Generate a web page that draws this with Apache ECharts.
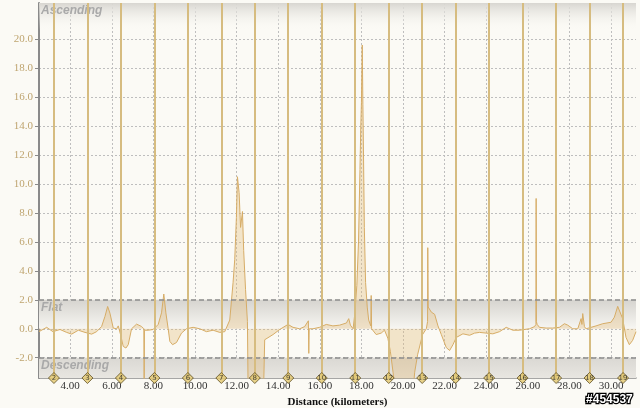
<!DOCTYPE html>
<html><head><meta charset="utf-8">
<script src="https://cdn.jsdelivr.net/npm/echarts@6/dist/echarts.min.js"></script>
<style>html,body{margin:0;padding:0;background:#FBFAF5}#c{width:640px;height:408px}</style>
</head><body><div id="c"></div>
<script>
// ---- data ----
const distanceKm = [2.50,2.87,3.17,3.51,3.83,4.07,4.39,4.71,5.03,5.27,5.51,5.67,5.80,5.91,6.07,6.23,6.31,6.42,6.55,6.68,6.79,6.95,7.19,7.43,7.54,7.555,7.57,7.75,7.99,8.23,8.39,8.50,8.60,8.71,8.79,8.92,9.11,9.35,9.59,9.91,10.23,10.55,10.87,11.19,11.43,11.67,11.83,11.91,11.99,12.04,12.12,12.19,12.28,12.34,12.43,12.52,12.55,13.30,13.35,13.75,14.07,14.47,14.71,15.03,15.27,15.45,15.47,15.49,15.67,15.99,16.31,16.63,16.95,17.28,17.39,17.47,17.60,17.68,17.78,17.86,17.93,17.97,18.00,18.04,18.07,18.10,18.14,18.20,18.28,18.35,18.45,18.47,18.49,18.55,18.71,18.95,19.11,19.27,19.39,19.52,19.60,20.50,20.56,20.70,20.94,21.12,21.18,21.19,21.21,21.36,21.52,21.68,21.84,22.08,22.24,22.40,22.56,22.88,23.20,23.44,23.68,24.00,24.32,24.64,24.96,25.28,25.60,26.08,26.32,26.39,26.40,26.41,26.45,26.56,26.88,27.20,27.52,27.76,27.92,28.16,28.40,28.56,28.60,28.64,28.72,28.80,29.04,29.28,29.60,30.00,30.16,30.32,30.40,30.56,30.72,30.88,31.04,31.20];
const gradePct = [-0.2,0.1,-0.2,-0.05,-0.25,-0.37,-0.1,-0.25,-0.37,-0.2,0.16,0.85,1.54,1.08,0.05,0.0,0.2,-0.4,-1.22,-1.33,-1.1,0.0,0.32,0.16,0.0,-3.6,-0.1,-0.1,-0.05,0.3,1.1,2.4,1.1,0.0,-0.87,-1.1,-0.95,-0.3,0.0,0.1,0.0,-0.2,-0.1,-0.25,-0.2,0.6,3.2,4.8,7.7,10.5,9.4,7.0,8.1,5.4,2.7,0.5,-4.0,-4.0,-0.76,-0.4,-0.05,0.3,0.1,0.0,0.15,0.55,-1.7,0.0,0.0,0.1,0.3,0.2,0.25,0.4,0.7,0.25,0.0,1.0,3.0,6.0,11.0,14.0,15.6,19.6,15.5,12.0,7.0,3.2,1.5,0.6,0.2,2.3,0.0,0.0,-0.4,-0.3,-0.1,-0.65,-1.55,-3.0,-4.0,-4.0,-3.0,-1.8,-0.4,0.0,0.5,5.6,1.5,1.15,1.0,0.2,-0.4,-1.3,-1.5,-1.1,-0.6,-0.35,-0.45,-0.3,-0.25,-0.3,-0.35,-0.2,0.1,-0.1,-0.1,0.0,0.15,0.3,9.0,0.5,0.3,0.1,0.05,0.05,0.1,0.35,0.25,0.0,0.0,0.7,0.3,1.05,0.15,0.0,0.1,0.2,0.35,0.45,0.8,1.55,1.65,0.7,-0.6,-1.1,-0.8,-0.2];
const xTickValues = [4,6,8,10,12,14,16,18,20,22,24,26,28,30];
const yTickValues = [-2,0,2,4,6,8,10,12,14,16,18,20];
const mileMarkers = [2,3,4,5,6,7,8,9,10,11,12,13,14,15,16,17,18,19];
const kmPerMile = 1.609344;
const bandNames = ['Ascending','Flat','Descending'];
const bandLimits = [2,-2];
const X_MIN = 2.5, X_MAX = 31.2, Y_MIN = -3.4, Y_MAX = 22.5;

const chart = echarts.init(document.getElementById('c'), null, {renderer:'canvas'});
const serif = 'Liberation Serif';
const bandLabel = {show:true, position:'insideTopLeft', distance:2, color:'#A9A9A9', fontStyle:'italic', fontWeight:'bold', fontSize:12, fontFamily:'Liberation Sans'};
function grad(top, bottom){
  return new echarts.graphic.LinearGradient(0,0,0,1,[{offset:0,color:top},{offset:1,color:bottom}]);
}
const option = {
  backgroundColor:'#FBFAF5',
  animation:false,
  grid:{left:39, right:4, top:3, bottom:30, containLabel:false, outerBoundsMode:'none'},
  xAxis:{
    type:'value', min:X_MIN, max:X_MAX,
    name:'Distance (kilometers)', nameLocation:'middle', nameGap:12,
    nameTextStyle:{color:'#111', fontFamily:serif, fontSize:11, fontWeight:'bold'},
    axisLine:{show:true, onZero:false, lineStyle:{color:'#8A8A8A', width:1.5}},
    axisTick:{show:false, customValues:xTickValues},
    axisLabel:{customValues:xTickValues, formatter:v=>v.toFixed(2), color:'#333', fontFamily:serif, fontSize:11, margin:3},
    splitLine:{show:true, lineStyle:{color:'#BEBEBE', type:[2,2], width:1}}
  },
  yAxis:{
    type:'value', min:Y_MIN, max:Y_MAX,
    name:'Grade %', nameLocation:'middle', nameGap:24,
    nameTextStyle:{color:'#C4A260', fontFamily:serif, fontSize:12, fontWeight:'bold'},
    axisLine:{show:true, lineStyle:{color:'#8A8A8A', width:2}},
    axisTick:{show:true, length:4, customValues:yTickValues, lineStyle:{color:'#8A8A8A'}},
    axisLabel:{customValues:yTickValues, formatter:v=>v.toFixed(1), color:'#BFA570', fontFamily:serif, fontSize:11, margin:6},
    splitLine:{show:true, lineStyle:{color:'#BEBEBE', type:[2,2], width:1}}
  },
  series:[
    {
      type:'line', name:'Grade', data:distanceKm.map((d,i)=>[d,gradePct[i]]),
      showSymbol:false, symbol:'none', clip:true,
      lineStyle:{color:'#D6AC66', width:1},
      areaStyle:{color:'rgba(226,186,122,0.5)'},
      markArea:{silent:true, data:[
        [{name:bandNames[0], yAxis:20.6, itemStyle:{color:grad('#D8D6D1','rgba(251,250,245,0)')}, label:bandLabel},{yAxis:Y_MAX}],
        [{name:bandNames[1], yAxis:bandLimits[0], itemStyle:{color:grad('#D6D4CF','#F7F6F2')}, label:bandLabel},{yAxis:0}],
        [{name:bandNames[2], yAxis:bandLimits[1], itemStyle:{color:grad('#DAD8D3','#E8E6E1')}, label:bandLabel},{yAxis:Y_MIN}]
      ]},
      z:2
    },
    {
      type:'line', data:[], silent:true,
      markLine:{silent:true, symbol:['none','none'], label:{show:false},
        lineStyle:{color:'#8C8C8C', type:[5,3], width:1.5},
        data:bandLimits.map(v=>({yAxis:v}))},
      z:3
    },
    {
      type:'scatter', name:'Miles', clip:false,
      data:mileMarkers.map(m=>[m*kmPerMile, Y_MIN, m]),
      symbol:'diamond', symbolSize:11,
      itemStyle:{color:'#E4C86E', borderColor:'#5E4E22', borderWidth:1},
      label:{show:true, position:'inside', formatter:p=>String(p.data[2]), fontSize:7, color:'#222', fontFamily:'DejaVu Sans'},
      markLine:{silent:true, symbol:['none','none'], label:{show:false},
        lineStyle:{color:'#D6BC80', type:'solid', width:2},
        data:mileMarkers.map(m=>({xAxis:m*kmPerMile}))},
      z:5
    }
  ],
  graphic:[{
    type:'text', right:6, bottom:1,
    style:{text:'#454537', font:'bold 12px "Liberation Sans"', fill:'#fff', stroke:'#000', lineWidth:2.5}
  }]
};
chart.setOption(option);
</script></body></html>
